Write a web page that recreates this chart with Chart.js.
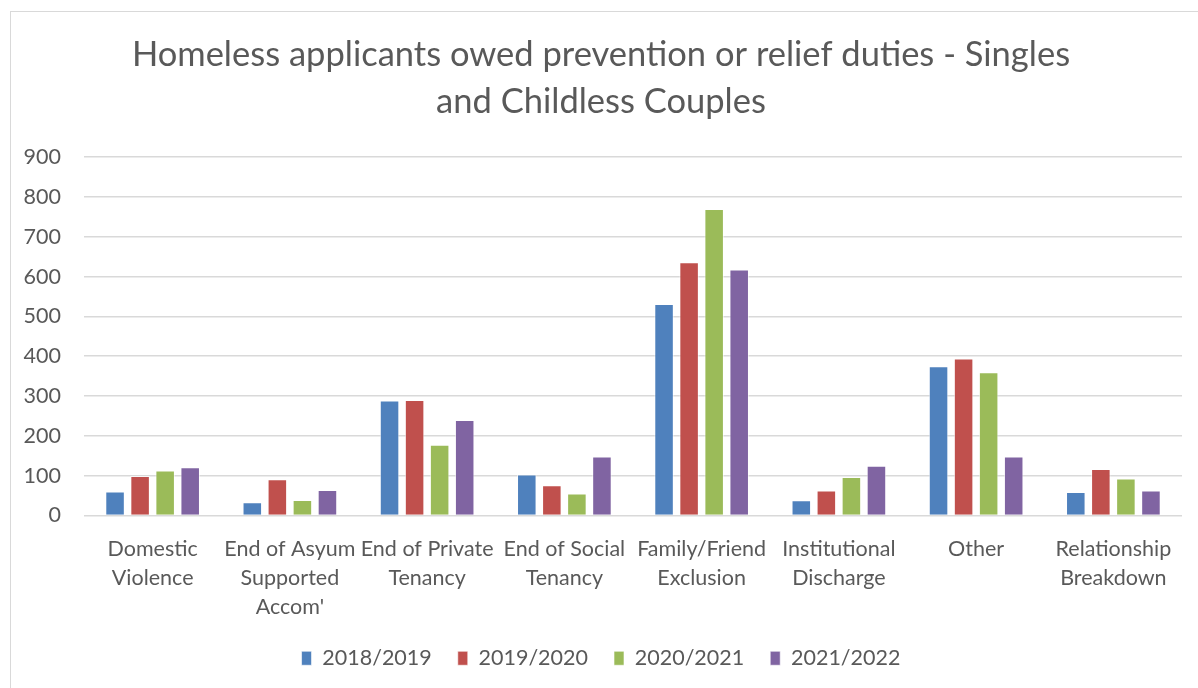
<!DOCTYPE html>
<html>
<head>
<meta charset="utf-8">
<script src="https://cdn.jsdelivr.net/npm/chart.js@4"></script>
<style>
  html, body { margin: 0; padding: 0; background: #fff; overflow: hidden; }
  #frame {
    position: absolute; left: 10px; top: 11px;
    width: 1300px; height: 800px;
    border: 1px solid #d9d9d9;
  }
  #wrap { position: absolute; left: 0; top: 0; width: 1198px; height: 688px; }
</style>
</head>
<body>
<div id="frame"></div>
<div id="wrap"><canvas id="chart"></canvas></div>
<script>
const categories = [
  ["Domestic", "Violence"],
  ["End of Asyum", "Supported", "Accom'"],
  ["End of Private", "Tenancy"],
  ["End of Social", "Tenancy"],
  ["Family/Friend", "Exclusion"],
  ["Institutional", "Discharge"],
  "Other",
  ["Relationship", "Breakdown"]
];
const seriesNames = ["2018/2019", "2019/2020", "2020/2021", "2021/2022"];
const values1819 = [60, 33, 289, 103, 531, 38, 375, 59];
const values1920 = [99, 91, 290, 76, 636, 63, 394, 117];
const values2021 = [113, 39, 178, 55, 770, 97, 360, 93];
const values2122 = [121, 64, 240, 148, 618, 125, 148, 63];
const yTicks = [0, 100, 200, 300, 400, 500, 600, 700, 800, 900];
const colors = ["#4F81BD", "#C0504D", "#9BBB59", "#8064A2"];

const textColor = "#595959";
const fontFamily = "Lato, 'Open Sans', sans-serif";

const allValues = [values1819, values1920, values2021, values2122];
const datasets = seriesNames.map((name, i) => ({
  label: name,
  data: allValues[i],
  backgroundColor: colors[i],
  borderColor: "rgba(255,255,255,0.6)",
  borderWidth: 1,
  categoryPercentage: 0.73,
  barPercentage: 0.78
}));

new Chart(document.getElementById("chart"), {
  type: "bar",
  data: { labels: categories, datasets },
  options: {
    responsive: true,
    maintainAspectRatio: false,
    animation: false,
    layout: { padding: { left: 20, right: 16, top: 12, bottom: 9 } },
    plugins: {
      title: {
        display: true,
        text: ["Homeless applicants owed prevention or relief duties - Singles", "and Childless Couples"],
        color: textColor,
        font: { family: fontFamily, size: 34.5, weight: "normal", lineHeight: 1.35 },
        padding: { top: 20, bottom: 32 }
      },
      legend: {
        position: "bottom",
        labels: {
          color: textColor,
          font: { family: fontFamily, size: 21.5 },
          boxWidth: 10,
          boxHeight: 14,
          padding: 26
        }
      },
      tooltip: { enabled: false }
    },
    scales: {
      x: {
        afterFit: (scale) => { scale.height = 106; },
        grid: { display: false },
        border: { display: false },
        ticks: {
          color: textColor,
          font: { family: fontFamily, size: 21.5, lineHeight: 1.35 },
          maxRotation: 0,
          autoSkip: false,
          padding: 11
        }
      },
      y: {
        min: 0,
        max: 900,
        afterFit: (scale) => { scale.width = 64; },
        afterBuildTicks: (scale) => { scale.ticks = yTicks.map(v => ({ value: v })); },
        grid: { color: "#d9d9d9", lineWidth: 1.5, drawTicks: false },
        border: { display: false },
        ticks: {
          color: textColor,
          font: { family: fontFamily, size: 21.5 },
          padding: 23
        }
      }
    }
  }
});
</script>
</body>
</html>
